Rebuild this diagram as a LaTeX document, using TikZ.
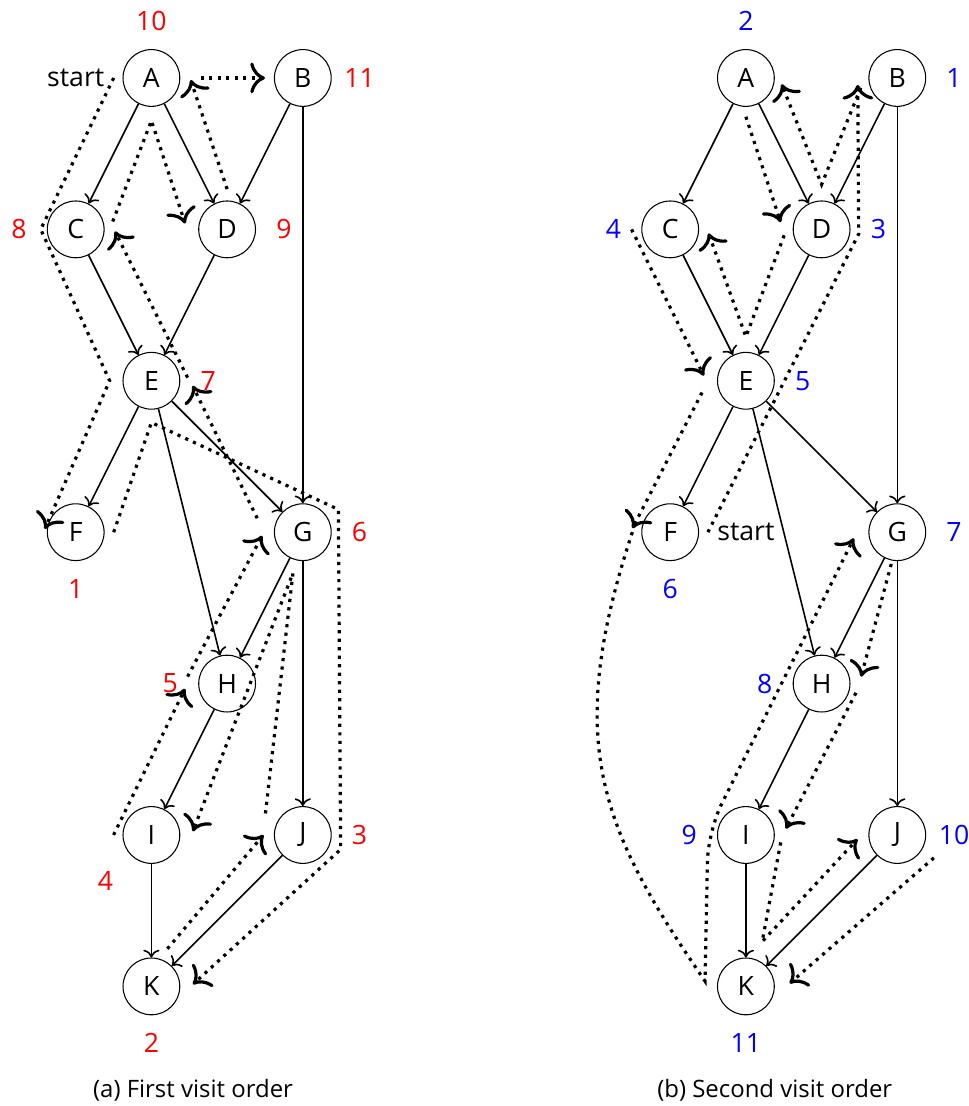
\documentclass[tikz,border=0pt]{standalone}
\usepackage{fontspec}
\setmainfont{Open Sans}
\usetikzlibrary{calc, positioning, arrows.meta}

\begin{document}
\begin{tikzpicture}[font=\fontsize{10}{12}\selectfont,
    vertex/.style={circle, draw, minimum size=7.5mm, inner sep=0pt},
    walk/.style={very thick, dotted, -{To[scale=1.3]}}]

\useasboundingbox (0,1.03) rectangle (12.787,-13.58);

% The same graph twice: l = first visit, r = second visit
\foreach \g/\dx in {l/0, r/7.853} {
  \foreach \n/\x/\y in {A/2/0, B/4/0, C/1/-2, D/3/-2, E/2/-4, F/1/-6,
                        G/4/-6, H/3/-8, I/2/-10, J/4/-10, K/2/-12}
    \node[vertex] (\g\n) at (\x+\dx,\y) {\n};
  \foreach \s/\t in {A/C, A/D, B/D, B/G, C/E, D/E, E/F, E/G, E/H,
                     G/H, G/J, H/I, I/K, J/K}
    \draw[->, semithick] (\g\s) -- (\g\t);
}

% Visit numbers (first visit)
\foreach \n/\a/\d/\v in {A/90/7.5/10, B/0/7.5/11, C/180/7.5/8, D/0/7.5/9,
                         E/0/7.5/7, F/270/7.5/1, G/0/7.5/6, H/180/7.5/5,
                         I/225/8.6/4, J/0/7.5/3, K/270/7.5/2}
  \node[red] (ln\n) at ($(l\n)+(\a:\d mm)$) {\v};

% Visit numbers (second visit)
\foreach \n/\a/\v in {A/90/2, B/0/1, C/180/4, D/0/3, E/0/5, F/270/6,
                      G/0/7, H/180/8, I/180/9, J/0/10, K/270/11}
  \node[blue] (rn\n) at ($(r\n)+(\a:7.5mm)$) {\v};

\node[on grid, left=1cm of lA] (lstart) {start};
\node[on grid, right=1cm of rF] (rstart) {start};

% First walk
\draw[walk] (lstart.east) -- ($(lC.west)+(-0.08,0)$) -- ($(lE.west)+(-0.17,0)$) -- ($(lF)+(174:0.41)$);
\draw[walk] ($(lF.east)+(0.12,0)$) -- ($(lE.south)+(0,-0.17)$) -- ($(lG)+(0.47,0.3)$)
    -- ($(lJ)+(0.5,-0.19)$) -- ($(lK)+(3:0.55)$);
\draw[walk] ($(lK)+(67:0.54)$) -- ($(lJ)+(180:0.52)$);
\draw[walk] ($(lJ)+(150:0.57)$) -- ($(lG)+(-0.13,-0.54)$) -- ($(lI)+(5:0.55)$);
\draw[walk] ($(lI)+(180:0.5)$) -- ($(lH)+(187:0.56)$);
\draw[walk] ($(lH)+(170:0.53)$) -- ($(lG)+(185:0.54)$);
\draw[walk] ($(lG)+(163:0.63)$) -- ($(lE)+(-7:0.55)$);
\draw[walk] ($(lE)+(5:0.48)$) -- ($(lC)+(-3:0.52)$);
\draw[walk] ($(lC)+(12:0.5)$) -- ($(lA.south)+(0,-0.18)$) -- ($(lD)+(172:0.56)$);
\draw[walk] ($(lD.north)+(0,0.15)$) -- ($(lA)+(-3:0.52)$);
\draw[walk] ($(lA)+(0.65,0)$) -- ($(lB)+(180:0.5)$);

% Second walk
\draw[walk] (rstart.west) -- ($(rD)+(0.49,-0.06)$) -- ($(rB)+(190:0.53)$);
\draw[walk] ($(rB)+(195:0.5)$) -- ($(rD.north)+(0,0.21)$) -- ($(rA)+(-10:0.48)$);
\draw[walk] ($(rA.south)+(0,-0.13)$) -- ($(rD)+(170:0.55)$);
\draw[walk] ($(rD)+(189:0.5)$) -- ($(rE.north)+(0,0.2)$) -- ($(rC)+(-6:0.51)$);
\draw[walk] ($(rC)+(180:0.51)$) -- ($(rE)+(173:0.56)$);
\draw[walk] ($(rE)+(195:0.6)$) -- ($(rF)+(174:0.5)$);
\draw[walk] ($(rF)+(180:0.5)$) .. controls ($(rF)+(-1.41,-2.76)$) and ($(rK)+(-1.93,2.09)$) .. ($(rK)+(-0.54,0.07)$)
    [rounded corners=4mm] -- ($(rI)+(-0.5,0.05)$) -- ($(rG)+(188:0.58)$);
\draw[walk] ($(rG)+(-0.08,-0.42)$) -- ($(rH)+(10:0.53)$);
\draw[walk] ($(rH)+(-15:0.47)$) -- ($(rI)+(9:0.535)$);
\draw[walk] ($(rI)+(-12:0.47)$) -- ($(rK)+(70:0.63)$) -- ($(rJ)+(186:0.53)$);
\draw[walk] ($(rJ)+(-32:0.57)$) -- ($(rK)+(4:0.58)$);

% Captions
\node[font=\fontsize{9}{11}\selectfont] (lcap) at (2.55,-13.37) {(a) First visit order};
\node[font=\fontsize{9}{11}\selectfont] (rcap) at (10.234,-13.37) {(b) Second visit order};

\end{tikzpicture}
\end{document}
